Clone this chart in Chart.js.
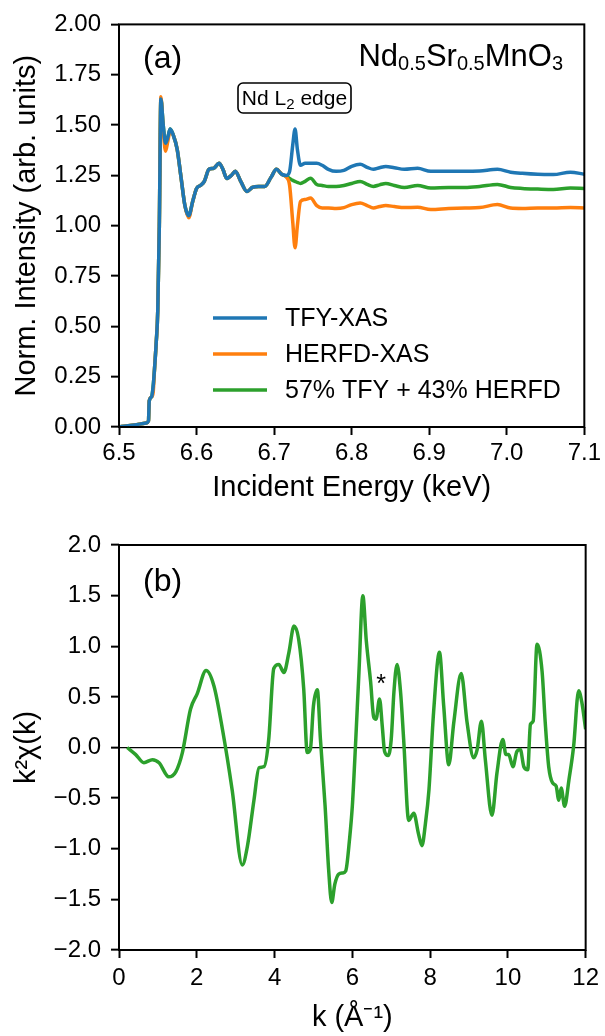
<!DOCTYPE html>
<html>
<head>
<meta charset="utf-8">
<script src="https://cdn.jsdelivr.net/npm/chart.js@4.4.0/dist/chart.umd.min.js"></script>
<style>
    body { margin: 0; background: #fff; }
    #wrap { position: relative; width: 605px; height: 1036px; }
    canvas { position: absolute; left: 0; }
    #xasChart { top: 0; }
    #exafsChart { top: 515px; }
</style>
</head>
<body>
<div id="wrap">
    <canvas id="xasChart" width="605" height="515"></canvas>
    <canvas id="exafsChart" width="605" height="521"></canvas>
</div>
<script>
// panel (a): incident energy (keV) and normalised intensities
const energy = [
    6.500, 6.520, 6.535, 6.538, 6.539, 6.542, 6.544, 6.546, 6.548, 6.550,
    6.552, 6.554, 6.557, 6.560, 6.563, 6.566, 6.570, 6.575, 6.580, 6.585,
    6.590, 6.595, 6.600, 6.605, 6.610, 6.616, 6.622, 6.629, 6.634, 6.639,
    6.645, 6.650, 6.657, 6.665, 6.672, 6.680, 6.688, 6.696, 6.703, 6.710,
    6.716, 6.720, 6.724, 6.727, 6.730, 6.734, 6.740, 6.747, 6.755, 6.762,
    6.770, 6.780, 6.790, 6.800, 6.811, 6.820, 6.828, 6.836, 6.844, 6.855,
    6.868, 6.885, 6.902, 6.925, 6.946, 6.965, 6.988, 7.005, 7.020, 7.040,
    7.060, 7.082, 7.100
];

const tfy = [
    0.00, 0.01, 0.02, 0.03, 0.13, 0.15, 0.20, 0.30, 0.42, 0.58,
    1.00, 1.63, 1.50, 1.41, 1.44, 1.48, 1.45, 1.38, 1.24, 1.10,
    1.05, 1.12, 1.185, 1.20, 1.22, 1.28, 1.285, 1.31, 1.28, 1.235,
    1.25, 1.27, 1.22, 1.17, 1.19, 1.195, 1.195, 1.24, 1.28, 1.255,
    1.25, 1.27, 1.40, 1.48, 1.38, 1.30, 1.31, 1.31, 1.31, 1.30,
    1.28, 1.27, 1.275, 1.295, 1.305, 1.29, 1.28, 1.288, 1.294, 1.288,
    1.28, 1.285, 1.27, 1.27, 1.27, 1.272, 1.28, 1.266, 1.26, 1.255,
    1.254, 1.266, 1.256
];

const herfd = [
    0.00, 0.01, 0.02, 0.03, 0.13, 0.15, 0.17, 0.30, 0.42, 0.58,
    1.00, 1.64, 1.48, 1.37, 1.42, 1.47, 1.45, 1.38, 1.24, 1.10,
    1.04, 1.12, 1.185, 1.20, 1.22, 1.28, 1.285, 1.31, 1.28, 1.235,
    1.25, 1.27, 1.22, 1.17, 1.19, 1.195, 1.195, 1.24, 1.28, 1.255,
    1.24, 1.20, 1.02, 0.89, 1.00, 1.12, 1.13, 1.137, 1.10, 1.088,
    1.088, 1.086, 1.09, 1.105, 1.113, 1.10, 1.088, 1.095, 1.10, 1.095,
    1.09, 1.092, 1.08, 1.085, 1.088, 1.09, 1.105, 1.088, 1.086, 1.088,
    1.088, 1.09, 1.088
];

const mix = [
    0.00, 0.01, 0.02, 0.03, 0.13, 0.15, 0.20, 0.30, 0.42, 0.58,
    1.00, 1.63, 1.50, 1.41, 1.44, 1.48, 1.45, 1.38, 1.24, 1.10,
    1.05, 1.12, 1.185, 1.20, 1.22, 1.28, 1.285, 1.31, 1.28, 1.235,
    1.25, 1.27, 1.22, 1.17, 1.19, 1.195, 1.195, 1.24, 1.28, 1.255,
    1.245, 1.235, 1.225, 1.22, 1.215, 1.21, 1.22, 1.236, 1.205, 1.20,
    1.195, 1.195, 1.20, 1.21, 1.22, 1.205, 1.195, 1.203, 1.21, 1.20,
    1.19, 1.20, 1.187, 1.19, 1.19, 1.195, 1.205, 1.19, 1.185, 1.182,
    1.18, 1.187, 1.185
];

const xasLabels = ['TFY-XAS', 'HERFD-XAS', '57% TFY + 43% HERFD'];
const xasColors = ['#1f77b4', '#ff7f0e', '#2ca02c'];

// panel (b): k (1/A) and k^2 chi(k)
const kVals = [
    0.21, 0.43, 0.64, 0.86, 1.03, 1.28, 1.46, 1.63, 1.84, 2.01,
    2.24, 2.44, 2.66, 2.91, 3.17, 3.30, 3.47, 3.60, 3.73, 3.85,
    3.98, 4.11, 4.24, 4.37, 4.50, 4.62, 4.75, 4.84, 4.92, 5.00,
    5.10, 5.18, 5.30, 5.39, 5.47, 5.55, 5.65, 5.75, 5.83, 5.93,
    6.00, 6.08, 6.17, 6.27, 6.36, 6.47, 6.55, 6.61, 6.70, 6.77,
    6.83, 6.92, 7.00, 7.07, 7.15, 7.24, 7.32, 7.45, 7.58, 7.70,
    7.79, 7.88, 7.97, 8.09, 8.24, 8.35, 8.48, 8.61, 8.80, 8.95,
    9.12, 9.21, 9.32, 9.42, 9.59, 9.72, 9.87, 9.95, 10.02, 10.13,
    10.23, 10.32, 10.41, 10.51, 10.58, 10.65, 10.75, 10.88, 10.96, 11.05,
    11.15, 11.24, 11.31, 11.37, 11.46, 11.57, 11.69, 11.82, 11.90, 12.00
];

const chi = [
    0.00, -0.07, -0.15, -0.12, -0.15, -0.29, -0.24, -0.05, 0.38, 0.53,
    0.76, 0.61, 0.18, -0.42, -1.16, -0.98, -0.52, -0.20, -0.19, 0.08,
    0.78, 0.82, 0.74, 0.94, 1.20, 1.07, 0.58, -0.05, -0.02, 0.41,
    0.57, 0.08, -0.58, -1.20, -1.53, -1.35, -1.25, -1.24, -1.22, -0.90,
    -0.58, 0.01, 0.74, 1.50, 1.05, 0.65, 0.30, 0.28, 0.48, 0.21,
    -0.04, -0.08, 0.08, 0.55, 0.82, 0.55, 0.08, -0.72, -0.65, -0.85,
    -0.97, -0.75, -0.42, 0.35, 0.94, 0.41, -0.17, 0.25, 0.73, 0.25,
    -0.10, -0.02, 0.26, -0.12, -0.67, -0.25, 0.08, -0.07, -0.07, -0.19,
    -0.04, -0.02, -0.19, -0.22, 0.23, 0.26, 1.02, 0.75, 0.25, -0.19,
    -0.35, -0.38, -0.52, -0.40, -0.58, -0.32, 0.01, 0.56, 0.45, 0.18
];

const FONT = '"Liberation Sans", Arial, Helvetica, sans-serif';
Chart.defaults.font.family = FONT;
Chart.defaults.color = '#000';

function fmtTick(v, digits) {
    return Number(v).toFixed(digits).replace('-', '\u2212');
}

function xAxis(min, max, step, digits, title, tickPad, titlePad, height) {
    return {
        type: 'linear',
        min: min,
        max: max,
        border: { display: false },
        grid: {
            drawOnChartArea: false,
            tickLength: 8,
            tickWidth: 2,
            tickColor: '#000'
        },
        ticks: {
            stepSize: step,
            padding: tickPad,
            autoSkip: false,
            maxRotation: 0,
            color: '#000',
            font: { size: 24 },
            callback: v => fmtTick(v, digits)
        },
        title: {
            display: true,
            text: title,
            color: '#000',
            font: { size: 29, lineHeight: 1 },
            padding: { top: 0, bottom: titlePad }
        },
        afterFit: s => { s.height = height; }
    };
}

function yAxis(min, max, step, digits, title, zeroLine) {
    return {
        min: min,
        max: max,
        border: { display: false },
        grid: {
            drawOnChartArea: zeroLine,
            color: ctx => (zeroLine && ctx.tick && ctx.tick.value === 0) ? '#000' : 'rgba(0,0,0,0)',
            lineWidth: 1.3,
            tickLength: 8,
            tickWidth: 2,
            tickColor: '#000'
        },
        ticks: {
            stepSize: step,
            padding: 10,
            autoSkip: false,
            color: '#000',
            font: { size: 24 },
            callback: v => fmtTick(v, digits)
        },
        title: {
            display: true,
            text: title,
            color: '#000',
            font: { size: 29, lineHeight: 1 },
            padding: { top: 12, bottom: 0 }
        },
        afterFit: s => { s.width = 119; }
    };
}

// draw text pieces with sub/superscripts, baseline at y
function drawParts(ctx, parts, x, y, align) {
    let total = 0;
    parts.forEach(p => {
        ctx.font = p.size + 'px ' + FONT;
        total += ctx.measureText(p.t).width;
    });
    let cx = align === 'right' ? x - total : (align === 'center' ? x - total / 2 : x);
    ctx.textAlign = 'left';
    ctx.textBaseline = 'alphabetic';
    parts.forEach(p => {
        ctx.font = p.size + 'px ' + FONT;
        ctx.fillText(p.t, cx, y + (p.dy || 0));
        cx += ctx.measureText(p.t).width;
    });
    return total;
}

const framePlugin = {
    id: 'frame',
    afterDatasetsDraw(chart) {
        const a = chart.chartArea;
        const ctx = chart.ctx;
        ctx.save();
        ctx.strokeStyle = '#000';
        ctx.lineWidth = 2;
        ctx.strokeRect(a.left, a.top, a.right - a.left, a.bottom - a.top);
        ctx.restore();
    }
};

const panelANotes = {
    id: 'panelANotes',
    afterDraw(chart) {
        const ctx = chart.ctx;
        ctx.save();
        ctx.fillStyle = '#000';

        drawParts(ctx, [{ t: '(a)', size: 32 }], 143, 68, 'left');

        drawParts(ctx, [
            { t: 'Nd', size: 31 }, { t: '0.5', size: 20, dy: 4 },
            { t: 'Sr', size: 31 }, { t: '0.5', size: 20, dy: 4 },
            { t: 'MnO', size: 31 }, { t: '3', size: 20, dy: 4 }
        ], 563, 66, 'right');

        // Nd L2 edge label box
        ctx.lineWidth = 1.6;
        ctx.strokeStyle = '#000';
        ctx.beginPath();
        ctx.roundRect(238, 83, 113, 30, 5);
        ctx.stroke();
        drawParts(ctx, [
            { t: 'Nd L', size: 21 }, { t: '2', size: 15, dy: 4 }, { t: ' edge', size: 21 }
        ], 294.5, 105, 'center');

        // legend
        chart.data.datasets.forEach((ds, i) => {
            const y = 318 + i * 36;
            ctx.strokeStyle = ds.borderColor;
            ctx.lineWidth = 3.5;
            ctx.beginPath();
            ctx.moveTo(213, y);
            ctx.lineTo(267, y);
            ctx.stroke();
            ctx.font = '25px ' + FONT;
            ctx.textAlign = 'left';
            ctx.textBaseline = 'middle';
            ctx.fillText(ds.label, 285, y + 1);
        });
        ctx.restore();
    }
};

const panelBNotes = {
    id: 'panelBNotes',
    afterDraw(chart) {
        const ctx = chart.ctx;
        ctx.save();
        ctx.fillStyle = '#000';
        drawParts(ctx, [{ t: '(b)', size: 32 }], 143, 76, 'left');
        drawParts(ctx, [{ t: '*', size: 25 }], 381, 177, 'center');
        ctx.restore();
    }
};

function lineSet(label, xs, ys, color) {
    return {
        label: label,
        data: xs.map((x, i) => ({ x: x, y: ys[i] })),
        borderColor: color,
        backgroundColor: color,
        borderWidth: 3.5,
        pointRadius: 0,
        fill: false,
        cubicInterpolationMode: 'monotone'
    };
}

new Chart(document.getElementById('xasChart'), {
    type: 'line',
    data: {
        datasets: [
            lineSet(xasLabels[0], energy, tfy, xasColors[0]),
            lineSet(xasLabels[1], energy, herfd, xasColors[1]),
            lineSet(xasLabels[2], energy, mix, xasColors[2])
        ]
    },
    options: {
        responsive: false,
        animation: false,
        devicePixelRatio: 1,
        layout: { padding: { top: 23, right: 18, left: 0, bottom: 0 } },
        plugins: { legend: { display: false }, tooltip: { enabled: false } },
        scales: {
            x: xAxis(6.5, 7.1, 0.1, 1, 'Incident Energy (keV)', 4, 12.5, 88),
            y: yAxis(0, 2, 0.25, 2, 'Norm. Intensity (arb. units)', false)
        }
    },
    plugins: [framePlugin, panelANotes]
});

new Chart(document.getElementById('exafsChart'), {
    type: 'line',
    data: {
        datasets: [
            lineSet('k2chi', kVals, chi, xasColors[2])
        ]
    },
    options: {
        responsive: false,
        animation: false,
        devicePixelRatio: 1,
        layout: { padding: { top: 30, right: 18, left: 0, bottom: 0 } },
        plugins: { legend: { display: false }, tooltip: { enabled: false } },
        scales: {
            x: xAxis(0, 12, 2, 0, 'k (\u00c5\u207b\u00b9)', 6, 3.5, 86),
            y: yAxis(-2, 2, 0.5, 1, 'k\u00b2\u03c7(k)', true)
        }
    },
    plugins: [framePlugin, panelBNotes]
});
</script>
</body>
</html>
